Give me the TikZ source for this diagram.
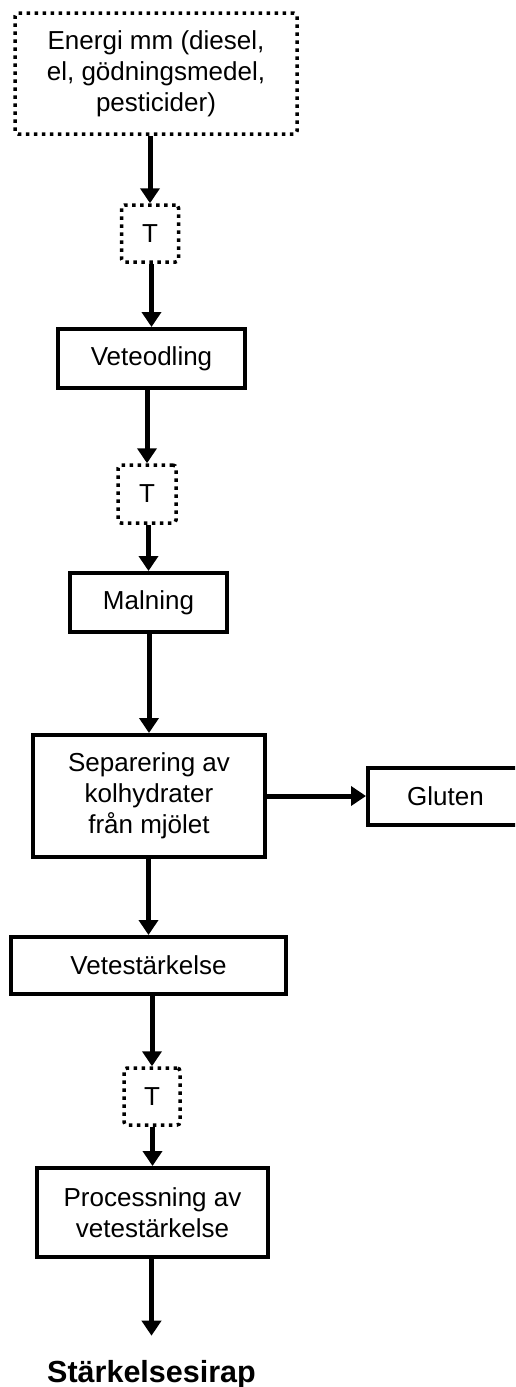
\documentclass[tikz,border=0pt]{standalone}
\usepackage{fontspec}
\setmainfont{Liberation Sans}
\usetikzlibrary{arrows.meta}

\tikzset{
  stepbox/.style={draw=black, line width=4pt, rectangle, inner sep=0pt,
    align=center, font=\fontsize{26}{31}\selectfont},
  dotbox/.style={draw=black, line width=3.5pt, rectangle, rounded corners=3pt,
    dash pattern=on 3.5pt off 4.5pt, inner sep=0pt, align=center,
    font=\fontsize{26}{31}\selectfont},
  flow/.style={line width=5pt, -{Triangle[length=15pt,width=19pt]}},
  result/.style={font=\bfseries\fontsize{30.5}{36}\selectfont, anchor=base,
    inner xsep=0pt, inner ysep=24pt}
}

\begin{document}
\begin{tikzpicture}[x=1pt,y=-1pt]
  \useasboundingbox (0,0) rectangle (515,1387);
  \clip (0,0) rectangle (515,1387);

  % inputs and transports
  \node[dotbox, minimum width=282pt, minimum height=121pt] (energy) at (156,73.5)
    {Energi mm (diesel,\\el, gödningsmedel,\\pesticider)};
  \node[dotbox, minimum width=57pt, minimum height=57pt] (t1) at (150,233.5) {T};

  % process chain
  \node[stepbox, minimum width=187pt, minimum height=59pt] (vete) at (151.5,358.5) {Veteodling};
  \node[dotbox, minimum width=58pt, minimum height=58pt] (t2) at (147,494) {T};
  \node[stepbox, minimum width=157pt, minimum height=59pt] (maln) at (148.5,602.5) {Malning};
  \node[stepbox, minimum width=232pt, minimum height=122pt] (sep) at (149,796)
    {Separering av\\kolhydrater\\från mjölet};
  \node[stepbox, minimum width=155pt, minimum height=57pt] (gluten) at (445.5,796) {Gluten};
  \node[stepbox, minimum width=275pt, minimum height=57pt] (vst) at (148.5,965.5) {Vetestärkelse};
  \node[dotbox, minimum width=56pt, minimum height=57pt] (t3) at (152,1096.5) {T};
  \node[stepbox, minimum width=231pt, minimum height=89pt] (proc) at (152.5,1212.5)
    {Processning av\\vetestärkelse};
  \node[result] (syrup) at (151.5,1382) {Stärkelsesirap};

  % connectors
  \draw[flow] (energy.south -| t1.north) -- (t1.north);
  \draw[flow] (t1.south -| vete.north) -- (vete.north);
  \draw[flow] (vete.south -| t2.north) -- (t2.north);
  \draw[flow] (t2.south -| maln.north) -- (maln.north);
  \draw[flow] (maln.south -| sep.north) -- (sep.north);
  \draw[flow] (sep.east) -- (gluten.west);
  \draw[flow] (sep.south -| vst.north) -- (vst.north);
  \draw[flow] (vst.south -| t3.north) -- (t3.north);
  \draw[flow] (t3.south -| proc.north) -- (proc.north);
  \draw[flow] (proc.south -| syrup.north) -- (syrup.north);
\end{tikzpicture}
\end{document}
